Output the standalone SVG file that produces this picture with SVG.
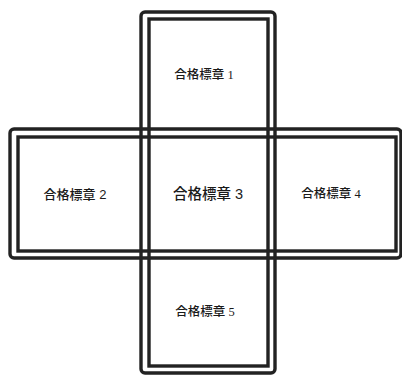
<svg xmlns="http://www.w3.org/2000/svg" width="402" height="376" viewBox="0 0 402 376">
<style>
.ln{fill:none;stroke:#222;stroke-width:3.4}
.t{fill:#1a1a1a;text-anchor:middle;font-family:"Liberation Serif","Noto Sans CJK JP",serif;font-size:12.5px;font-weight:500}
.g{font-family:"Liberation Sans","Noto Sans CJK JP",sans-serif}
</style>
<rect width="402" height="376" fill="#fff"/>
<g id="frame">
<rect class="ln" x="141" y="12" width="134" height="361" rx="4"/>
<rect class="ln" x="149" y="19" width="119" height="347"/>
<rect class="ln" x="10" y="129" width="391" height="129" rx="4"/>
<rect class="ln" x="18" y="137" width="378" height="114"/>
</g>
<g id="node1"><text class="t" x="204" y="79">合格標章 1</text></g>
<g id="node2"><text class="t g" x="75" y="199" style="font-size:13px">合格標章 2</text></g>
<g id="node3"><text class="t g" x="208" y="199" style="font-size:14.5px">合格標章 3</text></g>
<g id="node4"><text class="t" x="331" y="198">合格標章 4</text></g>
<g id="node5"><text class="t" x="205" y="316">合格標章 5</text></g>
</svg>
